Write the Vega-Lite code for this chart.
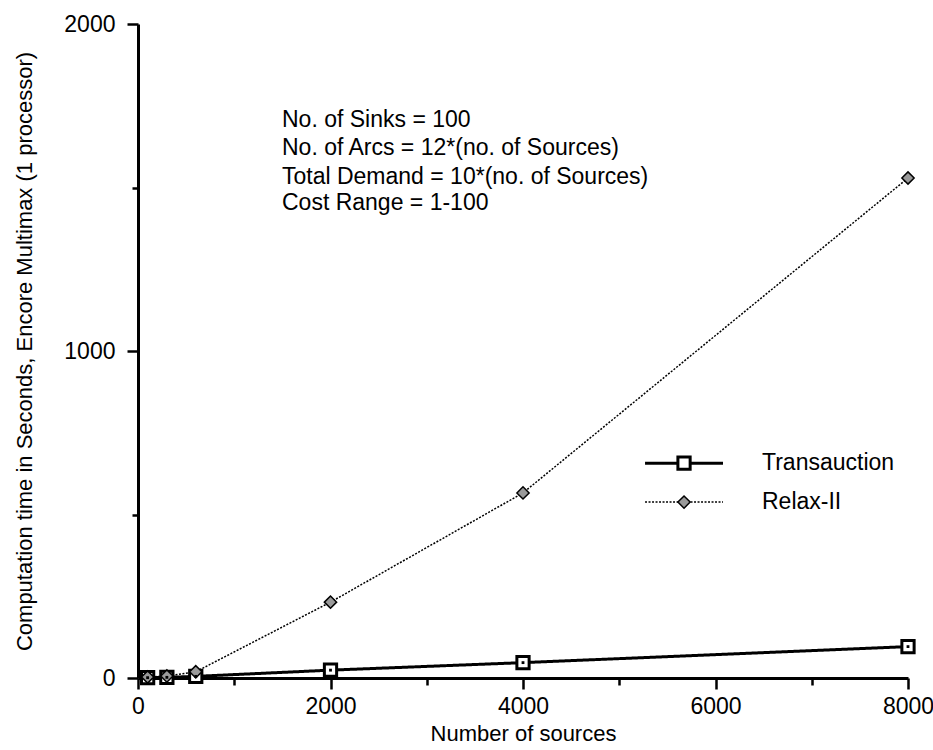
{
  "$schema": "https://vega.github.io/schema/vega-lite/v6.json",
  "width": 770,
  "height": 654,
  "autosize": {"type": "none"},
  "padding": {"left": 138, "top": 24, "right": 25, "bottom": 72},
  "background": "white",
  "config": {
    "view": {"stroke": null},
    "font": "Liberation Sans",
    "axis": {"domainColor": "black", "domainWidth": 3, "tickColor": "black", "tickWidth": 2.5, "grid": false, "labelColor": "black", "titleColor": "black", "labelFont": "Liberation Sans", "titleFont": "Liberation Sans", "titleFontWeight": "normal", "labelFontSize": 23, "titleFontSize": 22}
  },
  "datasets": {
    "series": [
      {"sources": 100, "time": 1, "algo": "Transauction"},
      {"sources": 300, "time": 2, "algo": "Transauction"},
      {"sources": 600, "time": 5, "algo": "Transauction"},
      {"sources": 2000, "time": 24, "algo": "Transauction"},
      {"sources": 4000, "time": 47, "algo": "Transauction"},
      {"sources": 8000, "time": 96, "algo": "Transauction"},
      {"sources": 100, "time": 3, "algo": "Relax-II"},
      {"sources": 300, "time": 6, "algo": "Relax-II"},
      {"sources": 600, "time": 19, "algo": "Relax-II"},
      {"sources": 2000, "time": 232, "algo": "Relax-II"},
      {"sources": 4000, "time": 566, "algo": "Relax-II"},
      {"sources": 8000, "time": 1529, "algo": "Relax-II"}
    ],
    "notes": [
      {"x": 1496, "y": 1706, "t": "No. of Sinks = 100"},
      {"x": 1496, "y": 1621, "t": "No. of Arcs = 12*(no. of Sources)"},
      {"x": 1496, "y": 1532, "t": "Total Demand = 10*(no. of Sources)"},
      {"x": 1496, "y": 1453, "t": "Cost Range = 1-100"}
    ],
    "legline": [
      {"x": 5268, "x2": 6078, "y": 657, "algo": "Transauction", "mx": 5673, "tx": 6483},
      {"x": 5268, "x2": 6078, "y": 538, "algo": "Relax-II", "mx": 5673, "tx": 6483}
    ]
  },
  "layer": [
    {
      "data": {"name": "series"},
      "mark": {"type": "line", "color": "black"},
      "encoding": {
        "x": {"field": "sources", "type": "quantitative", "scale": {"domain": [0, 8000], "nice": false}, "axis": {"values": [0, 1000, 2000, 3000, 4000, 5000, 6000, 7000, 8000], "labelExpr": "datum.value % 2000 == 0 ? datum.value : ''", "title": "Number of sources", "tickSize": {"condition": {"test": "datum.value % 2000 == 0", "value": 11}, "value": 7}, "labelPadding": 6, "titlePadding": 5, "labelFlush": false, "labelOverlap": false}},
        "y": {"field": "time", "type": "quantitative", "scale": {"domain": [0, 2000], "nice": false}, "axis": {"values": [0, 500, 1000, 1500, 2000], "labelExpr": "datum.value % 1000 == 0 ? datum.value : ''", "title": "Computation time in Seconds, Encore Multimax (1 processor)", "tickSize": {"condition": {"test": "datum.value % 1000 == 0", "value": 11}, "value": 6}, "labelPadding": 12, "titlePadding": 27, "labelFlush": false, "labelOverlap": false}},
        "strokeWidth": {"field": "algo", "type": "nominal", "scale": {"domain": ["Transauction", "Relax-II"], "range": [3, 1.5]}, "legend": null},
        "strokeDash": {"field": "algo", "type": "nominal", "scale": {"domain": ["Transauction", "Relax-II"], "range": [[1, 0], [2, 1.5]]}, "legend": null}
      }
    },
    {
      "data": {"name": "series"},
      "mark": {"type": "point", "filled": true, "stroke": "black", "opacity": 1},
      "encoding": {
        "x": {"field": "sources", "type": "quantitative"},
        "y": {"field": "time", "type": "quantitative"},
        "shape": {"field": "algo", "type": "nominal", "scale": {"domain": ["Transauction", "Relax-II"], "range": ["square", "diamond"]}, "legend": null},
        "size": {"field": "algo", "type": "nominal", "scale": {"domain": ["Transauction", "Relax-II"], "range": [150, 150]}, "legend": null},
        "fill": {"field": "algo", "type": "nominal", "scale": {"domain": ["Transauction", "Relax-II"], "range": ["white", "#9a9a9a"]}, "legend": null},
        "strokeWidth": {"field": "algo", "type": "nominal", "scale": {"domain": ["Transauction", "Relax-II"], "range": [2.5, 1.5]}, "legend": null}
      }
    },
    {
      "data": {"name": "series"},
      "transform": [{"filter": "datum.algo == 'Transauction'"}],
      "mark": {"type": "square", "filled": true, "color": "black", "size": 8, "opacity": 1},
      "encoding": {
        "x": {"field": "sources", "type": "quantitative"},
        "y": {"field": "time", "type": "quantitative"}
      }
    },
    {
      "data": {"name": "legline"},
      "mark": {"type": "rule", "color": "black"},
      "encoding": {
        "x": {"field": "x", "type": "quantitative"},
        "x2": {"field": "x2"},
        "y": {"field": "y", "type": "quantitative"},
        "strokeWidth": {"field": "algo", "type": "nominal", "scale": {"domain": ["Transauction", "Relax-II"], "range": [3, 1.5]}, "legend": null},
        "strokeDash": {"field": "algo", "type": "nominal", "scale": {"domain": ["Transauction", "Relax-II"], "range": [[1, 0], [2, 1.5]]}, "legend": null}
      }
    },
    {
      "data": {"name": "legline"},
      "mark": {"type": "point", "filled": true, "stroke": "black", "opacity": 1},
      "encoding": {
        "x": {"field": "mx", "type": "quantitative"},
        "y": {"field": "y", "type": "quantitative"},
        "shape": {"field": "algo", "type": "nominal", "scale": {"domain": ["Transauction", "Relax-II"], "range": ["square", "diamond"]}, "legend": null},
        "size": {"field": "algo", "type": "nominal", "scale": {"domain": ["Transauction", "Relax-II"], "range": [110, 110]}, "legend": null},
        "fill": {"field": "algo", "type": "nominal", "scale": {"domain": ["Transauction", "Relax-II"], "range": ["white", "#9a9a9a"]}, "legend": null},
        "strokeWidth": {"field": "algo", "type": "nominal", "scale": {"domain": ["Transauction", "Relax-II"], "range": [2, 1.5]}, "legend": null}
      }
    },
    {
      "data": {"name": "legline"},
      "mark": {"type": "text", "align": "left", "baseline": "middle", "fontSize": 23, "font": "Liberation Sans", "color": "black"},
      "encoding": {
        "x": {"field": "tx", "type": "quantitative"},
        "y": {"field": "y", "type": "quantitative"},
        "text": {"field": "algo"}
      }
    },
    {
      "data": {"name": "notes"},
      "mark": {"type": "text", "align": "left", "baseline": "middle", "fontSize": 23, "font": "Liberation Sans", "color": "black"},
      "encoding": {
        "x": {"field": "x", "type": "quantitative"},
        "y": {"field": "y", "type": "quantitative"},
        "text": {"field": "t"}
      }
    }
  ]
}
